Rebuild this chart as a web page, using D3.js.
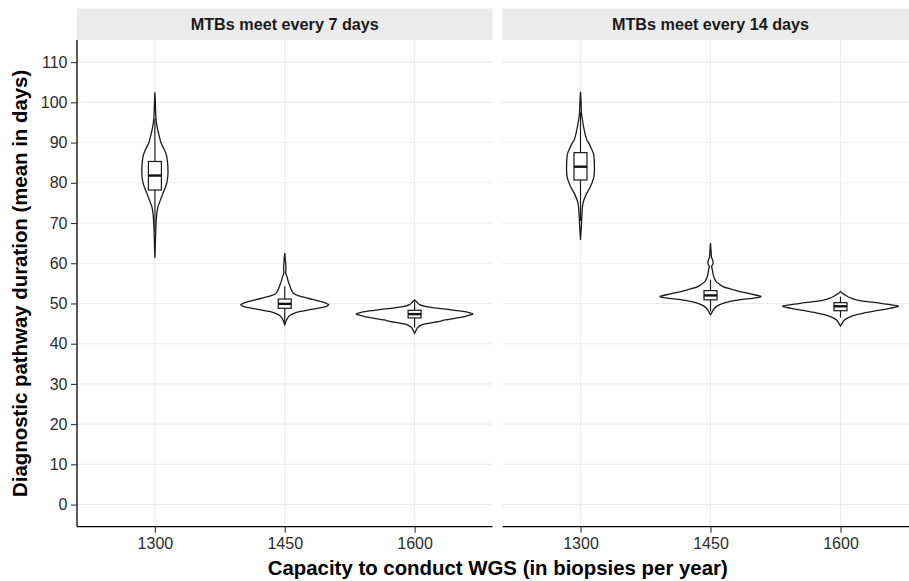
<!DOCTYPE html>
<html><head><meta charset="utf-8">
<script src="https://cdn.jsdelivr.net/npm/d3@7"></script>
<style>body{margin:0;background:#fff}svg{display:block}text{font-family:"Liberation Sans",Arial,Helvetica,sans-serif}</style>
</head><body>
<svg id="chart" width="909" height="581"></svg>
<script>
// ---------- data ----------
const categories = ["1300", "1450", "1600"];
const panels = ["MTBs meet every 7 days", "MTBs meet every 14 days"];
const yTicks = [0, 10, 20, 30, 40, 50, 60, 70, 80, 90, 100, 110];
const xTitle = "Capacity to conduct WGS (in biopsies per year)";
const yTitle = "Diagnostic pathway duration (mean in days)";

// violin profiles: [value, relative density]
const violin7_1300 = [[102.5,0],[100,0.008],[97,0.014],[95,0.025],[93,0.051],[91.5,0.076],[90,0.102],[88.5,0.153],[87,0.195],[85,0.217],[83,0.224],[81.5,0.22],[80,0.203],[78.5,0.169],[77,0.127],[76,0.102],[75,0.076],[74,0.051],[72.5,0.034],[70.5,0.022],[68,0.014],[65,0.008],[61.3,0]];
const violin7_1450 = [[62.5,0],[61,0.01],[59,0.02],[57.5,0.017],[56.5,0.042],[55.5,0.059],[54.5,0.085],[53.5,0.11],[53,0.127],[52.5,0.153],[52,0.22],[51.5,0.339],[51,0.475],[50.5,0.61],[50,0.712],[49.7,0.754],[49.3,0.712],[48.8,0.559],[48.3,0.373],[47.8,0.203],[47.3,0.119],[46.8,0.068],[46,0.034],[44.7,0]];
const violin7_1600 = [[50.9,0],[50.3,0.042],[49.7,0.085],[49.2,0.203],[48.8,0.407],[48.3,0.69],[47.8,0.915],[47.4,1.0],[47,0.915],[46.6,0.814],[46.3,0.69],[45.9,0.525],[45.5,0.407],[45.1,0.254],[44.7,0.124],[44,0.051],[43.3,0.025],[42.6,0]];
const violin14_1300 = [[102.6,0],[100,0.01],[97.3,0.017],[94.8,0.042],[92.3,0.076],[90.6,0.11],[89.8,0.144],[88.5,0.186],[87.3,0.22],[84.8,0.237],[81.5,0.229],[79,0.169],[77,0.093],[74.9,0.042],[72.4,0.025],[69.1,0.014],[65.8,0]];
const violin14_1450 = [[65,0],[63,0.01],[61.5,0.017],[60.5,0.042],[59.8,0.042],[59.2,0.02],[58.5,0.03],[57.5,0.042],[56.5,0.059],[55.5,0.093],[54.8,0.153],[54.2,0.215],[53.6,0.339],[53,0.492],[52.4,0.678],[51.9,0.83],[51.7,0.864],[51.4,0.763],[50.9,0.492],[50.5,0.339],[50,0.215],[49.4,0.119],[48.8,0.068],[48.4,0.046],[47.8,0.025],[47.2,0]];
const violin14_1600 = [[53,0],[52.5,0.034],[52.2,0.068],[51.6,0.136],[50.9,0.271],[50.2,0.61],[49.7,0.847],[49.3,0.993],[48.8,0.847],[48.2,0.61],[47.7,0.424],[47.2,0.271],[46.5,0.136],[45.9,0.068],[45.2,0.034],[44.4,0]];

// box stats: [whisker low, q1, median, q3, whisker high]
const box7 = [[68, 78.2, 81.8, 85.3, 96], [45, 48.8, 49.9, 51.1, 54.3], [44, 46.4, 47.35, 48.3, 50.5]];
const box14 = [[70.5, 80.7, 84.0, 87.5, 97.5], [48, 50.9, 52.0, 53.2, 55.9], [46.5, 48.2, 49.3, 50.2, 51.7]];

const violins7 = [violin7_1300, violin7_1450, violin7_1600];
const violins14 = [violin14_1300, violin14_1450, violin14_1600];

// ---------- layout ----------
const svg = d3.select("#chart");
const plotTop = 40, plotBottom = 526.7, stripTop = 8.5;
const panelX = [[77, 492.5], [502.5, 918.5]];
const y = d3.scaleLinear().domain([-5.5, 115.5]).range([plotBottom, plotTop]);
const panelData = [{violins: violins7, boxes: box7}, {violins: violins14, boxes: box14}];
const ink = "#1a1a1a";

panelData.forEach((pd, pi) => {
  const [x0, x1] = panelX[pi];
  const x = d3.scalePoint().domain(categories).range([x0, x1]).padding(0.6);
  const band = x.step();
  const w = d3.scaleLinear().domain([0, 1]).range([0, band * 0.45]);
  const g = svg.append("g");

  // strip
  g.append("rect").attr("x", x0).attr("y", stripTop).attr("width", x1 - x0).attr("height", plotTop - stripTop).attr("fill", "#ebebeb");
  g.append("text").attr("x", (x0 + x1) / 2).attr("y", (stripTop + plotTop) / 2).attr("dy", "0.36em")
    .attr("text-anchor", "middle").attr("font-weight", "bold").attr("font-size", 16.2).attr("fill", "#1a1a1a").text(panels[pi]);

  // grid
  g.selectAll(".hg").data(yTicks).join("line")
    .attr("x1", x0).attr("x2", x1).attr("y1", d => y(d)).attr("y2", d => y(d))
    .attr("stroke", "#ebebeb").attr("stroke-width", 1.1);
  g.selectAll(".vg").data(categories).join("line")
    .attr("x1", d => x(d)).attr("x2", d => x(d)).attr("y1", plotTop).attr("y2", plotBottom)
    .attr("stroke", "#ebebeb").attr("stroke-width", 1.1);

  // violins + boxes
  categories.forEach((c, ci) => {
    const cx = x(c);
    const area = d3.area()
      .y(d => y(d[0]))
      .x0(d => cx - w(d[1]))
      .x1(d => cx + w(d[1]))
      .curve(d3.curveCatmullRom.alpha(0.5));
    g.append("path").attr("d", area(pd.violins[ci]))
      .attr("fill", "white").attr("stroke", ink).attr("stroke-width", 1.3);

    const b = pd.boxes[ci];
    const bw = band * 0.1;
    g.append("line").attr("x1", cx).attr("x2", cx).attr("y1", y(b[0])).attr("y2", y(b[1]))
      .attr("stroke", ink).attr("stroke-width", 1.2);
    g.append("line").attr("x1", cx).attr("x2", cx).attr("y1", y(b[3])).attr("y2", y(b[4]))
      .attr("stroke", ink).attr("stroke-width", 1.2);
    g.append("rect").attr("x", cx - bw / 2).attr("width", bw)
      .attr("y", y(b[3])).attr("height", y(b[1]) - y(b[3]))
      .attr("fill", "white").attr("stroke", ink).attr("stroke-width", 1.2);
    g.append("line").attr("x1", cx - bw / 2).attr("x2", cx + bw / 2).attr("y1", y(b[2])).attr("y2", y(b[2]))
      .attr("stroke", "#111").attr("stroke-width", 2.4);
  });

  // bottom axis
  const xa = g.append("g").attr("transform", `translate(0,${plotBottom})`)
    .call(d3.axisBottom(x).tickSize(6).tickPadding(5));
  xa.select(".domain").attr("stroke", "#000").attr("stroke-width", 1.3).attr("d", `M${x0},0H${x1}`);
  xa.selectAll(".tick line").attr("stroke", "#333").attr("stroke-width", 1.1);
  xa.selectAll("text").attr("font-size", 16).attr("fill", "#2b2b2b").attr("font-family", "Liberation Sans, Arial, sans-serif");

  if (pi === 0) {
    const ya = g.append("g").attr("transform", `translate(${x0},0)`)
      .call(d3.axisLeft(y).tickValues(yTicks).tickSize(6).tickPadding(3.5));
    ya.select(".domain").attr("stroke", "#000").attr("stroke-width", 1.3).attr("d", `M0,${plotTop}V${plotBottom}`);
    ya.selectAll(".tick line").attr("stroke", "#333").attr("stroke-width", 1.1);
    ya.selectAll("text").attr("font-size", 16).attr("fill", "#2b2b2b").attr("font-family", "Liberation Sans, Arial, sans-serif");
  }
});

// axis titles
svg.append("text").attr("x", (77 + 918.5) / 2).attr("y", 575).attr("text-anchor", "middle")
  .attr("font-weight", "bold").attr("font-size", 20.4).attr("fill", "#000").text(xTitle);
svg.append("text").attr("transform", `translate(26.6,${(plotTop + plotBottom) / 2}) rotate(-90)`).attr("text-anchor", "middle")
  .attr("font-weight", "bold").attr("font-size", 20.4).attr("fill", "#000").text(yTitle);
</script>
</body></html>
